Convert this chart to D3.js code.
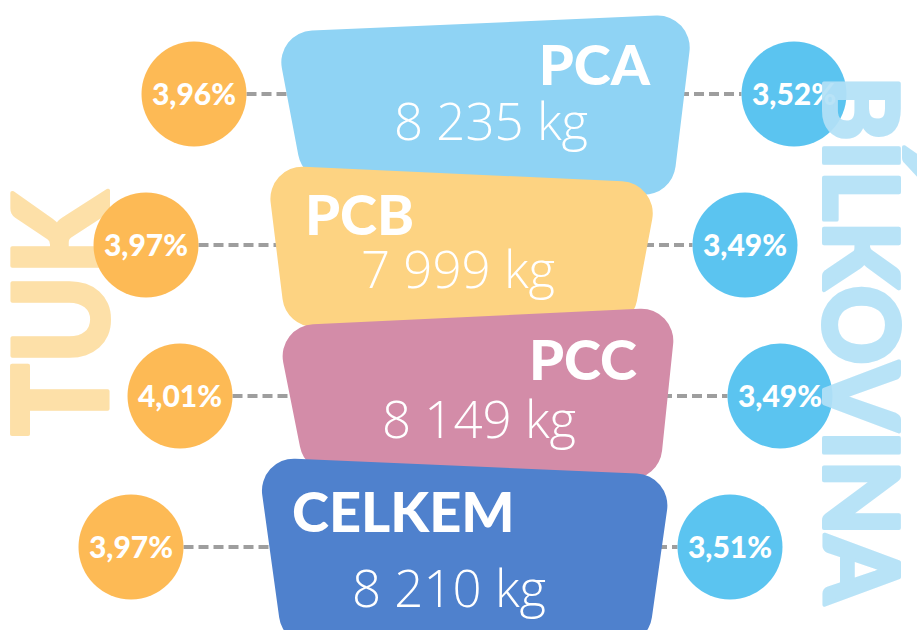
<!DOCTYPE html>
<html>
<head>
<meta charset="utf-8">
<script src="https://cdn.jsdelivr.net/npm/d3@7"></script>
<style>
  body { margin: 0; background: #fff; }
  svg { display: block; }
</style>
</head>
<body>
<div id="chart"></div>
<script>
// Data
var groups = ["PCA", "PCB", "PCC", "CELKEM"];
var weightKg = [8235, 7999, 8149, 8210];
var fatPct = [3.96, 3.97, 4.01, 3.97];
var proteinPct = [3.52, 3.49, 3.49, 3.51];
var fatTitle = "TUK";
var proteinTitle = "BÍLKOVINA";

// Set SVG Specs
var svgWidth = 917;
var svgHeight = 630;

var shapeColors = ["#8fd3f4", "#fdd382", "#d38ca8", "#4f81cd"];
var fatColor = "#fdba55";
var proteinColor = "#5bc4f0";
var circleR = 52.5;

// hand placed layout of each row (x positions, y offsets from row centre)
var rowLayout = [
  { fatX: 194, protX: 794, corners: [[275, -62], [694, -80], [672, 102], [303, 86]],
    nameX: 650, nameAnchor: "end", nameDy: -9, valueX: 394, valueDy: 46 },
  { fatX: 146, protX: 745, corners: [[266, -80], [659, -62], [632, 82], [286, 82]],
    nameX: 305, nameAnchor: "start", nameDy: -10, valueX: 361, valueDy: 43 },
  { fatX: 180, protX: 780, corners: [[276, -70], [677, -89], [659, 84], [305, 76]],
    nameX: 637, nameAnchor: "end", nameDy: -16, valueX: 382, valueDy: 42 },
  { fatX: 131, protX: 730, corners: [[257, -90], [672, -72], [648, 98], [283, 98]],
    nameX: 292, nameAnchor: "start", nameDy: -15, valueX: 352, valueDy: 60 }
];

// Czech number format
var cz = d3.formatLocale({ decimal: ",", thousands: "\u00a0", grouping: [3], currency: ["", ""] });
var fmtKg = cz.format(",d");
var fmtPct = cz.format(".2f");

var svg = d3.select("#chart")
  .append("svg")
  .attr("width", svgWidth)
  .attr("height", svgHeight);

var yScale = d3.scalePoint()
  .domain(groups)
  .range([94, 547]);

var rows = groups.map(function(g, i) {
  return {
    name: g,
    kg: weightKg[i],
    fat: fatPct[i],
    prot: proteinPct[i],
    color: shapeColors[i],
    lay: rowLayout[i],
    y: yScale(g)
  };
});

function roundedShape(pts, r) {
  var p = d3.path();
  var n = pts.length;
  var last = pts[n - 1], first = pts[0];
  p.moveTo((last[0] + first[0]) / 2, (last[1] + first[1]) / 2);
  for (var i = 0; i < n; i++) {
    var c = pts[i], nx = pts[(i + 1) % n];
    p.arcTo(c[0], c[1], nx[0], nx[1], r);
  }
  p.closePath();
  return p.toString();
}

// big side title (fat) - behind circles
svg.append("text")
  .attr("transform", "translate(108, 314) rotate(-90)")
  .attr("text-anchor", "middle")
  .attr("font-family", "Lato, 'Open Sans', sans-serif")
  .attr("font-weight", 900)
  .attr("font-size", 132)
  .attr("fill", "#fde0a8")
  .attr("stroke", "#fde0a8")
  .attr("stroke-width", 4)
  .attr("stroke-linejoin", "round")
  .attr("textLength", 244)
  .attr("lengthAdjust", "spacingAndGlyphs")
  .text(fatTitle);

// dashed connectors
var dash = svg.append("g")
  .attr("stroke", "#9e9e9e")
  .attr("stroke-width", 4)
  .attr("stroke-dasharray", "10,5");

dash.selectAll(".fatLine")
  .data(rows)
  .enter()
  .append("line")
  .attr("x1", d => d.lay.fatX + circleR)
  .attr("x2", d => d.lay.corners[0][0] + 30)
  .attr("y1", d => d.y)
  .attr("y2", d => d.y);

dash.selectAll(".protLine")
  .data(rows)
  .enter()
  .append("line")
  .attr("x1", d => d.lay.corners[1][0] - 30)
  .attr("x2", d => d.lay.protX - circleR)
  .attr("y1", d => d.y)
  .attr("y2", d => d.y);

// stacked shapes
var shapes = svg.selectAll(".shape")
  .data(rows)
  .enter()
  .append("g")
  .attr("class", "shape");

shapes.append("path")
  .attr("d", d => roundedShape(d.lay.corners.map(c => [c[0], d.y + c[1]]), 32))
  .attr("fill", d => d.color);

shapes.append("text")
  .attr("x", d => d.lay.nameX)
  .attr("y", d => d.y + d.lay.nameDy)
  .attr("text-anchor", d => d.lay.nameAnchor)
  .attr("font-family", "Lato, sans-serif")
  .attr("font-weight", 900)
  .attr("font-size", 56)
  .attr("fill", "#fff")
  .text(d => d.name);

shapes.append("text")
  .attr("x", d => d.lay.valueX)
  .attr("y", d => d.y + d.lay.valueDy)
  .attr("font-family", "'Open Sans', sans-serif")
  .attr("font-weight", 300)
  .attr("font-size", 51)
  .attr("fill", "#fff")
  .text(d => fmtKg(d.kg) + " kg");

// circles
var fatG = svg.selectAll(".fat")
  .data(rows)
  .enter()
  .append("g")
  .attr("transform", d => `translate(${d.lay.fatX}, ${d.y})`);

fatG.append("circle")
  .attr("r", circleR)
  .attr("fill", fatColor);

fatG.append("text")
  .attr("text-anchor", "middle")
  .attr("dy", "0.35em")
  .attr("font-family", "Lato, sans-serif")
  .attr("font-weight", 900)
  .attr("font-size", 30)
  .attr("fill", "#fff")
  .text(d => fmtPct(d.fat) + "%");

var protG = svg.selectAll(".prot")
  .data(rows)
  .enter()
  .append("g")
  .attr("transform", d => `translate(${d.lay.protX}, ${d.y})`);

protG.append("circle")
  .attr("r", circleR)
  .attr("fill", proteinColor);

protG.append("text")
  .attr("text-anchor", "middle")
  .attr("dy", "0.35em")
  .attr("font-family", "Lato, sans-serif")
  .attr("font-weight", 900)
  .attr("font-size", 30)
  .attr("fill", "#fff")
  .text(d => fmtPct(d.prot) + "%");

// big side title (protein) - over circles
svg.append("text")
  .attr("transform", "translate(824, 340) rotate(90)")
  .attr("text-anchor", "middle")
  .attr("font-family", "Lato, 'Open Sans', sans-serif")
  .attr("font-weight", 900)
  .attr("font-size", 102)
  .attr("fill", "#b3e1f7")
  .attr("stroke", "#b3e1f7")
  .attr("stroke-width", 4)
  .attr("stroke-linejoin", "round")
  .attr("opacity", 0.92)
  .attr("textLength", 528)
  .attr("lengthAdjust", "spacingAndGlyphs")
  .text(proteinTitle);
</script>
</body>
</html>
